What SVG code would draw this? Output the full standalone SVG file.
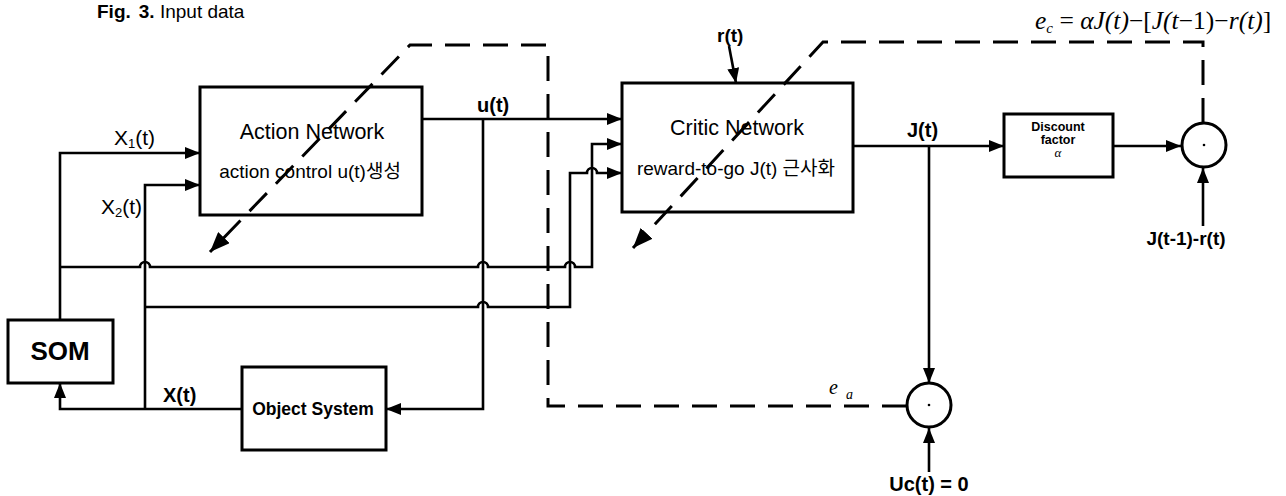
<svg xmlns="http://www.w3.org/2000/svg" width="1286" height="496" viewBox="0 0 1286 496">
<style>
.box{fill:none;stroke:#000;stroke-width:3}
.ln{fill:none;stroke:#000;stroke-width:2.6}
.dash{fill:none;stroke:#000;stroke-width:3;stroke-dasharray:25 13}
.t{font-family:"Liberation Sans",Arial,"Noto Sans CJK KR",sans-serif;fill:#000}
.b{font-weight:bold}
.m{font-family:"Liberation Serif","Times New Roman",serif;font-style:italic;fill:#000}
</style>
<defs>
<marker id="ah" markerUnits="userSpaceOnUse" markerWidth="15" markerHeight="12" refX="15" refY="6" orient="auto">
<path d="M0,0 L15,6 L0,12 z" fill="#000"/>
</marker>
<marker id="ahd" markerUnits="userSpaceOnUse" markerWidth="20" markerHeight="16" refX="20" refY="8" orient="auto">
<path d="M0,0 L20,8 L0,16 z" fill="#000"/>
</marker>
</defs>
<text class="t" x="97" y="18" font-size="19"><tspan class="b">Fig.</tspan><tspan class="b" dx="8">3.</tspan> Input data</text>

<g id="connectors">
<path class="ln" d="M60,320 V153 H200" marker-end="url(#ah)"/>
<path class="ln" d="M60,267 H140 a5,5 0 0 1 10,0 H478 a5,5 0 0 1 10,0 H565 a5,5 0 0 1 10,0 H592 V144 H622" marker-end="url(#ah)"/>
<path class="ln" d="M242,409 H60 V383" marker-end="url(#ah)"/>
<path class="ln" d="M145,409 V185 H200" marker-end="url(#ah)"/>
<path class="ln" d="M145,307 H478 a5,5 0 0 1 10,0 H570 V173 H587 a5,5 0 0 1 10,0 H622" marker-end="url(#ah)"/>
<path class="ln" d="M422,119 H622" marker-end="url(#ah)"/>
<path class="ln" d="M483,119 V409 H386" marker-end="url(#ah)"/>
<path class="ln" d="M853,146 H1004" marker-end="url(#ah)"/>
<path class="ln" d="M929,146 V383" marker-end="url(#ah)"/>
<path class="ln" d="M1113,146 H1181" marker-end="url(#ah)"/>
<path class="ln" d="M1203,226 V168" marker-end="url(#ah)"/>
<path class="ln" d="M929,472 V428" marker-end="url(#ah)"/>
<path class="ln" d="M729,46 L736,83" marker-end="url(#ah)"/>
<path class="dash" d="M907,406 H548 V45 H410 L210,252" marker-end="url(#ahd)"/>
<path class="dash" d="M1203,123 V42 H823 L633,248" marker-end="url(#ahd)"/>
</g>

<g id="som">
<rect class="box" x="8" y="320" width="105" height="63"/>
<text class="t b" x="60" y="360" font-size="26" text-anchor="middle">SOM</text>
</g>

<g id="action-network">
<rect class="box" x="200" y="87" width="222" height="128"/>
<text class="t" x="312" y="139" font-size="21.5" text-anchor="middle">Action Network</text>
<text class="t" x="310" y="178" font-size="19" text-anchor="middle">action control u(t)생성</text>
</g>

<g id="critic-network">
<rect class="box" x="622" y="83" width="231" height="129"/>
<text class="t" x="737" y="135" font-size="21.5" text-anchor="middle">Critic Network</text>
<text class="t" x="736" y="175" font-size="19" text-anchor="middle">reward-to-go J(t) 근사화</text>
</g>

<g id="object-system">
<rect class="box" x="242" y="367" width="144" height="83"/>
<text class="t b" x="313" y="415" font-size="17.5" text-anchor="middle">Object System</text>
</g>

<g id="discount-factor">
<rect class="box" x="1004" y="114" width="109" height="63"/>
<text class="t b" x="1058" y="131" font-size="12.5" text-anchor="middle">Discount</text>
<text class="t b" x="1058" y="144" font-size="12.5" text-anchor="middle">factor</text>
<text class="m" x="1058" y="157" font-size="13" text-anchor="middle">α</text>
</g>

<g id="sum-ea">
<circle cx="929" cy="405" r="22" fill="#fff" stroke="#000" stroke-width="3"/>
<circle cx="929" cy="405" r="1.3" fill="#000"/>
</g>

<g id="sum-ec">
<circle cx="1204" cy="145" r="22" fill="#fff" stroke="#000" stroke-width="3"/>
<circle cx="1204" cy="145" r="1.3" fill="#000"/>
</g>

<g id="labels">
<text class="t" x="114" y="145" font-size="21">X<tspan font-size="13" dy="3">1</tspan><tspan dy="-3">(t)</tspan></text>
<text class="t" x="101" y="214" font-size="21">X<tspan font-size="13" dy="3">2</tspan><tspan dy="-3">(t)</tspan></text>
<text class="t b" x="477" y="112" font-size="20">u(t)</text>
<text class="t b" x="717" y="42" font-size="19">r(t)</text>
<text class="t b" x="907" y="137" font-size="20">J(t)</text>
<text class="t b" x="163" y="402" font-size="20">X(t)</text>
<text class="t b" x="1186" y="245" font-size="19" text-anchor="middle">J(t-1)-r(t)</text>
<text class="t b" x="929" y="491" font-size="20" text-anchor="middle">Uc(t) = 0</text>
<text class="m" x="829" y="394" font-size="20">e</text>
<text class="m" x="846" y="399" font-size="14">a</text>
<text class="m" x="1035" y="29" font-size="25.5">e<tspan font-size="15" dy="4">c</tspan><tspan dy="-4" font-style="normal"> = </tspan>αJ(t)<tspan font-style="normal">−[</tspan>J(t<tspan font-style="normal">−1)−</tspan>r(t)<tspan font-style="normal">]</tspan></text>
</g>
</svg>
